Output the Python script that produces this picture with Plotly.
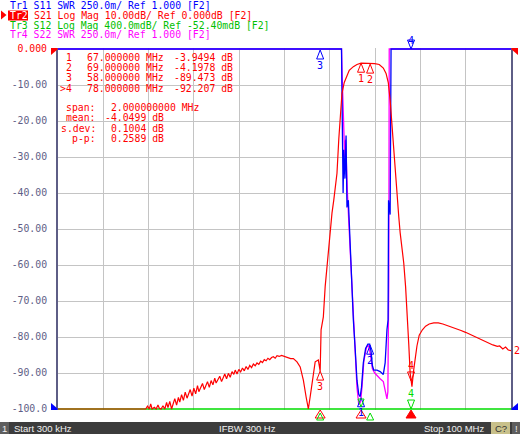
import plotly.graph_objects as go

# ---------------- data ----------------
s21_freq = [0.3, 5, 10, 15, 19.6,
            20.0, 20.4, 20.7, 21.0, 21.5, 21.9, 22.3, 22.6, 23.0, 23.4, 23.8, 24.2, 24.5, 24.9, 25.3, 25.6,
            26.0, 26.4, 26.8, 27.1, 27.5, 27.9, 28.3, 28.7, 29.0, 29.4, 29.8, 30.2, 30.6, 31.0, 31.3, 31.7,
            32.1, 32.5, 32.9, 33.2, 33.6, 34.0, 34.4, 34.8, 35.1, 35.5, 35.9, 36.3, 36.7, 37.0, 37.4, 37.8,
            38.2, 38.6, 39.0, 39.3, 39.7, 40.1, 40.5, 40.9, 41.3, 41.7, 42.1, 42.5, 42.9, 43.3, 43.7, 44.1,
            44.5, 44.9, 45.3, 45.7, 46.1, 46.5, 46.9, 47.3, 47.7, 48.1, 48.5, 49.0, 49.5, 50.0, 50.5, 51.0,
            51.5, 52.1, 52.9, 53.6, 54.3, 54.9, 55.4, 55.8, 56.4, 56.9, 57.6, 57.8, 58.0, 58.2, 58.7, 59.1,
            59.8, 60.3, 60.6, 61.0, 61.7, 62.1, 62.4, 62.8, 63.3, 63.9, 64.4, 65.3, 66.1, 67.0, 68.0, 69.0,
            70.0, 71.0, 71.9, 72.5, 73.0, 73.4, 73.8, 74.5, 74.9, 75.3, 75.6, 76.4, 76.8, 77.1, 77.5, 77.8,
            78.0, 78.2, 78.6, 79.0, 79.3, 79.8, 80.5, 81.2, 82.0, 83.0, 84.0, 85.0, 86.0, 87.0, 88.0, 89.0,
            90.0, 91.0, 92.0, 93.0, 94.0, 95.0, 96.0, 97.0, 97.5, 98.2, 98.8, 99.4, 100.0]
s21_db = [-100, -100, -100, -100, -100,
          -99.2, -100, -98.6, -100, -99.5, -100, -98.9, -99.8, -100, -99.1, -100, -98.2, -99.6, -97.9, -100, -98.4,
          -97.1, -98.9, -96.8, -98.1, -96.0, -97.6, -95.3, -97.0, -95.9, -94.6, -96.4, -94.2, -95.8, -93.5, -95.2, -94.0,
          -92.9, -94.6, -93.1, -92.4, -94.0, -92.1, -93.3, -91.4, -92.8, -91.9, -90.9, -92.4, -91.0, -90.3, -91.6, -90.1,
          -91.2, -89.6, -90.4, -89.2, -90.3, -89.0, -89.7, -88.6, -89.4, -88.2, -89.0, -87.9, -88.5, -87.5, -88.0, -87.2,
          -87.6, -86.7, -87.1, -86.3, -86.6, -85.9, -86.3, -85.7, -85.5, -85.9, -85.2, -85.4, -85.1, -85.3, -85.6, -85.7,
          -86.0, -86.0, -86.9, -88.3, -92.0, -96.6, -100.0, -96.6, -90.4, -86.9, -86.4, -88.6, -89.47, -78.0, -74.4, -66.0,
          -55.8, -49.0, -45.6, -41.9, -34.5, -25.0, -18.8, -12.3, -9.3, -7.5, -5.9, -4.9, -4.3, -3.95, -3.98, -4.20,
          -4.05, -4.3, -5.3, -6.8, -9.4, -14.2, -21.6, -34.5, -41.9, -46.6, -51.0, -59.5, -66.0, -72.0, -82.0, -90.0,
          -92.21, -93.8, -89.0, -85.0, -82.5, -79.5, -78.0, -77.0, -76.4, -76.1, -76.1, -76.4, -76.8, -77.2, -77.7, -78.2,
          -78.7, -79.3, -79.9, -80.5, -81.1, -81.7, -82.2, -82.6, -82.5, -83.3, -82.8, -83.6, -83.8]

s11_freq = [0.3, 62.7, 62.8, 62.95, 63.05, 63.2, 63.45, 63.7, 63.9, 64.2, 64.6, 64.9, 65.3, 65.7, 66.1, 66.5,
            66.8, 67.1, 67.5, 68.0, 68.5, 68.9, 69.2, 69.5, 69.8, 70.5, 71.2, 71.9, 72.3, 72.7, 72.95, 73.05,
            73.4, 73.6, 100.0]
s11_swr = [3.5, 3.5, 3.19, 2.6, 2.5, 2.8, 2.6, 2.9, 2.4, 2.45, 2.15, 1.88, 1.62, 1.42, 1.2, 1.1,
           1.085, 1.15, 1.32, 1.42, 1.45, 1.45, 1.40, 1.30, 1.27, 1.27, 1.26, 1.24, 1.32, 1.55, 1.62, 2.45,
           2.35, 3.5, 3.5]

s22_freq = [0.3, 62.7, 62.85, 63.0, 63.2, 63.4, 63.6, 63.8, 64.0, 64.3, 64.6, 64.9, 65.3, 65.7, 66.1, 66.5,
            66.9, 67.2, 67.6, 68.2, 68.7, 69.1, 69.5, 70.0, 70.5, 71.2, 71.9, 72.4, 72.7, 72.9, 73.1, 73.2, 100.0]
s22_swr = [3.5, 3.5, 3.3, 3.17, 3.0, 2.75, 2.87, 2.6, 2.5, 2.3, 2.1, 1.85, 1.58, 1.35, 1.15, 1.03,
           1.05, 1.15, 1.33, 1.43, 1.44, 1.37, 1.28, 1.25, 1.23, 1.21, 1.19, 1.12, 1.07, 1.12, 1.9, 3.5, 3.5]

s12_freq = [0.3, 100.0]
s12_db = [-56.4, -56.4]

marker_ids = ["1", "2", "3", "4"]
marker_freq = [67.0, 69.0, 58.0, 78.0]
marker_s21 = [-3.9494, -4.1978, -89.473, -92.207]
marker_s11 = [1.085, 1.45, 3.5, 3.5]
active_marker = 3

stats_labels = ["span:", "mean:", "s.dev:", "p-p:"]
stats_values = ["\u00a02.000000000 MHz", "-4.0499 dB", "\u00a00.1004 dB", "\u00a00.2589 dB"]

y_ticks = [0, -10, -20, -30, -40, -50, -60, -70, -80, -90, -100]
y_ticklabels = ["0.000", "-10.00", "-20.00", "-30.00", "-40.00", "-50.00", "-60.00",
                "-70.00", "-80.00", "-90.00", "-100.0"]

start_f, stop_f = 0.3, 100.0
status_left = "Start 300 kHz"
status_mid = "IFBW 300 Hz"
status_right = "Stop 100 MHz"

# ---------------- style ----------------
W, H = 520, 434
L, R, T, B = 58, 9, 48, 24
PW, PH = W - L - R, H - T - B
BLUE, RED, GREEN, MAG = "#0000ff", "#ff0000", "#00dd00", "#ff00ff"
GREEN_TXT = "#00c000"
AXC = "#5e5e86"
MONO = "DejaVu Sans Mono"


def px(x):
    return (x - L) / PW


def py(y):
    return (H - B - y) / PH


pad_db = 100 / 360
pad_swr = 0.25 / 36
pad_g = 0.4 / 36

fig = go.Figure()
# empty trace that only instantiates the main (labelled) dB axis
fig.add_trace(go.Scatter(x=[], y=[], mode="lines", hoverinfo="skip"))
fig.add_trace(go.Scatter(x=s12_freq, y=s12_db, yaxis="y2", mode="lines",
                         line=dict(color=GREEN, width=1.4), hoverinfo="skip"))
fig.add_trace(go.Scatter(x=s22_freq, y=s22_swr, yaxis="y3", mode="lines",
                         line=dict(color=MAG, width=1.3), hoverinfo="skip"))
fig.add_trace(go.Scatter(x=s11_freq, y=s11_swr, yaxis="y3", mode="lines",
                         line=dict(color=BLUE, width=1.3), hoverinfo="skip"))
fig.add_trace(go.Scatter(x=s21_freq, y=s21_db, yaxis="y4", mode="lines",
                         line=dict(color=RED, width=1.2), hoverinfo="skip"))

div = (stop_f - start_f) / 10
fig.update_layout(
    width=W, height=H, margin=dict(l=L, r=R, t=T, b=B, autoexpand=False),
    paper_bgcolor="white", plot_bgcolor="white", showlegend=False,
    xaxis=dict(range=[start_f, stop_f], showticklabels=False, ticks="",
               tickvals=[start_f + div * k for k in range(1, 10)],
               showgrid=True, gridcolor="#c4c4c4", gridwidth=1, zeroline=False, showline=False),
    yaxis=dict(range=[-100 - pad_db, pad_db], tickvals=y_ticks,
               ticktext=["<span style='color:#ff0000'>" + y_ticklabels[0] + "</span>"] + y_ticklabels[1:],
               tickfont=dict(family=MONO, size=9.8, color=AXC),
               ticks="outside", ticklen=7, tickcolor="rgba(0,0,0,0)",
               showgrid=True, gridcolor="#c4c4c4", gridwidth=1, zeroline=False,
               showline=True, linecolor=AXC, linewidth=2, mirror=True),
    yaxis2=dict(range=[-56.4 - pad_g, -52.4 + pad_g], overlaying="y", visible=False),
    yaxis3=dict(range=[1.0 - pad_swr, 3.5 + pad_swr], overlaying="y", visible=False),
    yaxis4=dict(range=[-100 - pad_db, pad_db], overlaying="y", visible=False),
)

shapes = []
ann = []


def tri(xa, ya, yref, color, up=True, off=0, h=9, w=3.5, fill=False):
    if up:
        path = f"M0,{-off} L{-w},{-off - h} L{w},{-off - h} Z"
    else:
        path = f"M0,{off} L{-w},{off + h} L{w},{off + h} Z"
    shapes.append(dict(type="path", xref="x", yref=yref, xsizemode="pixel", ysizemode="pixel",
                       xanchor=xa, yanchor=ya, path=path, line=dict(color=color, width=1),
                       fillcolor=color if fill else "rgba(0,0,0,0)", layer="above"))


def lab(xa, ya, yref, text, color, yshift, size=10):
    ann.append(dict(x=xa, y=ya, xref="x", yref=yref, text=text, showarrow=False, yshift=yshift,
                    font=dict(family=MONO, size=size, color=color), borderpad=0))


TOP_EDGE = py(49)
BOTTOM_EDGE = py(409)

# red (S21) markers
for i, (mid, f, v) in enumerate(zip(marker_ids, marker_freq, marker_s21)):
    if i == active_marker:
        tri(f, v, "y4", RED, up=False)
        lab(f, v, "y4", mid, RED, 15)
    else:
        tri(f, v, "y4", RED, up=True)
        lab(f, v, "y4", mid, RED, -15)

# blue (S11) markers (3 and 4 are clipped at the top edge)
for i, (mid, f, v) in enumerate(zip(marker_ids, marker_freq, marker_s11)):
    if i == active_marker:
        tri(f, TOP_EDGE, "paper", BLUE, up=False)
        lab(f, TOP_EDGE, "paper", mid, BLUE, 15)
    else:
        tri(f, v, "y3", BLUE, up=True, off=1)
        lab(f, v, "y3", mid, BLUE, -16)

# green (S12) markers on clipped bottom
tri(marker_freq[3], s12_db[0], "y2", GREEN, up=False)
lab(marker_freq[3], s12_db[0], "y2", marker_ids[3], GREEN, 16)
tri(marker_freq[0], s12_db[0], "y2", GREEN, up=False, off=2, h=8, w=3)

# stimulus markers under the graph
for i, f in enumerate(marker_freq):
    if i == active_marker:
        tri(f, BOTTOM_EDGE, "paper", RED, up=True, off=1, h=8, w=5, fill=True)
    elif i in (0, 2):
        tri(f, BOTTOM_EDGE, "paper", RED, up=True, off=1, h=8, w=5)
for i in (1, 2):
    tri(marker_freq[i], BOTTOM_EDGE, "paper", GREEN, up=True, off=4, h=7, w=3.5)


# reference position arrows
def ref_arrow(ya, yref, color, left_side=True):
    path = "M-7,6 L0,0 L-7,-6 Z" if left_side else "M7,6 L0,0 L7,-6 Z"
    shapes.append(dict(type="path", xref="paper", yref=yref, xsizemode="pixel", ysizemode="pixel",
                       xanchor=0 if left_side else 1, yanchor=ya, path=path,
                       line=dict(color=color, width=0), fillcolor=color, layer="above"))


ref_arrow(0, "y4", RED, True)
ref_arrow(0, "y4", RED, False)
ref_arrow(1.0, "y3", BLUE, True)
ref_arrow(1.0, "y3", BLUE, False)

# trace end label
ann.append(dict(x=1, y=s21_db[-1], xref="paper", yref="y4", text="2", showarrow=False,
                xanchor="left", xshift=2, font=dict(family=MONO, size=10, color=RED), borderpad=0))


def ptext(x, y, text, color, anchor="left", size=9.8, family=MONO):
    ann.append(dict(x=px(x), y=py(y), xref="paper", yref="paper", text=text, showarrow=False,
                    xanchor=anchor, yanchor="middle", font=dict(family=family, size=size, color=color),
                    borderpad=0))


# marker table
row_y = [57, 67.3, 77.6, 88]
for i, (mid, f, v) in enumerate(zip(marker_ids, marker_freq, marker_s21)):
    ptext(73, row_y[i], (">" if i == active_marker else "") + mid, RED, "right")
    ptext(86, row_y[i], f"{f:.6f} MHz", RED)
    ptext(173, row_y[i], f"{v:.5g} dB", RED)
stat_y = [107.5, 117.8, 128.1, 138.4]
for lbl, val, yy in zip(stats_labels, stats_values, stat_y):
    ptext(97, yy, lbl, RED, "right")
    ptext(104, yy, val, RED)

# header
CW = 5.9
shapes.append(dict(type="rect", xref="paper", yref="paper", x0=px(8), x1=px(28), y0=py(20.5), y1=py(10.5),
                   fillcolor=RED, line=dict(width=0)))
shapes.append(dict(type="path", xref="paper", yref="paper",
                   path=f"M{px(1)},{py(10.5)} L{px(6.5)},{py(15)} L{px(1)},{py(19.5)} Z",
                   fillcolor=RED, line=dict(width=0)))
ptext(9, 5.5, "Tr1 S11 SWR 250.0m/ Ref 1.000 [F2]", BLUE)
ptext(9, 15.3, "Tr2", "white")
ptext(9 + 4 * CW, 15.3, "S21 Log Mag 10.00dB/ Ref 0.000dB [F2]", RED)
ptext(9, 25, "Tr3 S12 Log Mag 400.0mdB/ Ref -52.40mdB [F2]", GREEN_TXT)
ptext(9, 34.5, "Tr4 S22 SWR 250.0m/ Ref 1.000 [F2]", MAG)

# status bar
shapes.append(dict(type="rect", xref="paper", yref="paper", x0=px(0), x1=px(520), y0=py(434), y1=py(422),
                   fillcolor="#3c3c3c", line=dict(width=0)))
shapes.append(dict(type="rect", xref="paper", yref="paper", x0=px(0), x1=px(9), y0=py(434), y1=py(422),
                   fillcolor="#5e5e5e", line=dict(width=0)))
shapes.append(dict(type="rect", xref="paper", yref="paper", x0=px(491), x1=px(510), y0=py(434), y1=py(422),
                   fillcolor="#c8c08a", line=dict(width=0)))
shapes.append(dict(type="rect", xref="paper", yref="paper", x0=px(512), x1=px(520), y0=py(434), y1=py(422),
                   fillcolor="#5e5e5e", line=dict(width=0)))
SANS = "Liberation Sans"
ptext(4.5, 428.5, "1", "#f0f0f0", "center", 9.5, SANS)
ptext(13, 428.5, status_left, "#f0f0f0", "left", 9.5, SANS)
ptext(247, 428.5, status_mid, "#f0f0f0", "center", 9.5, SANS)
ptext(485, 428.5, status_right, "#f0f0f0", "right", 9.5, SANS)
ptext(500.5, 428.5, "C?", "#303030", "center", 9.5, SANS)
ptext(516, 428.5, "!", "#f0f0f0", "center", 9.5, SANS)

fig.update_layout(shapes=shapes, annotations=ann)
fig.write_html("out.html", config={"displayModeBar": False},
               post_script="document.body.style.margin='0';document.body.style.padding='0';"
                           "document.body.style.overflow='hidden';")
